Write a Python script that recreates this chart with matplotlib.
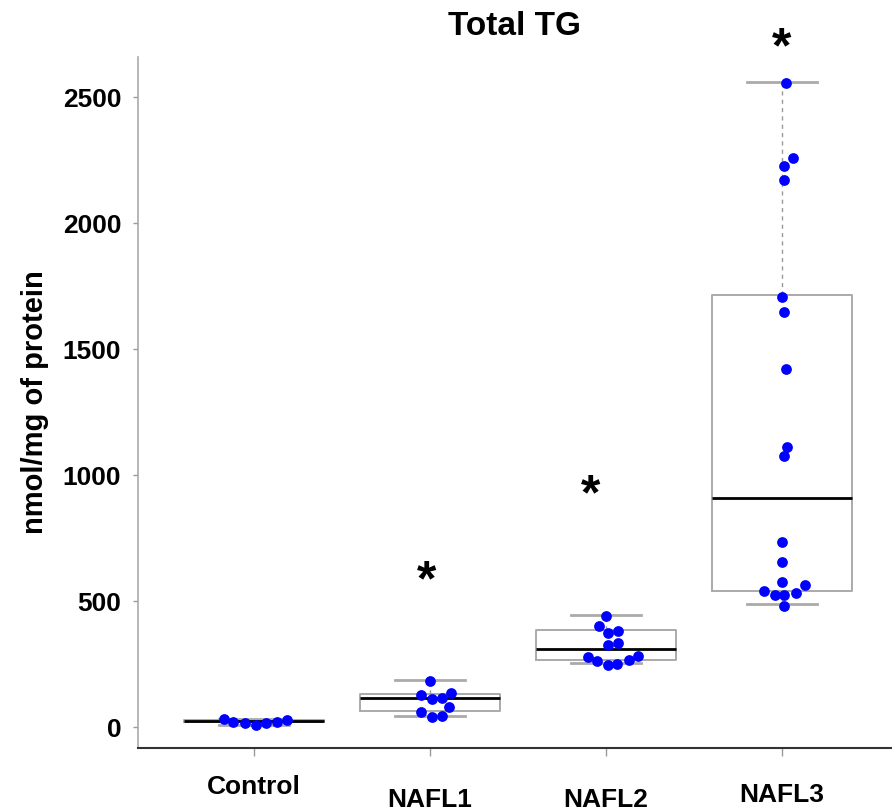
import matplotlib
matplotlib.use("Agg")
import matplotlib.pyplot as plt

plt.rcParams['font.family'] = ['Liberation Sans', 'DejaVu Sans']
plt.rcParams['font.weight'] = 'bold'

groups = ["Control", "NAFL1", "NAFL2", "NAFL3"]

control = [32, 20, 16, 8, 16, 20, 28]
nafl1 = [183, 127, 111, 115, 135, 79, 60, 40, 44]
nafl2 = [440, 401, 373, 381, 325, 333, 278, 262, 246, 250, 266, 282]
nafl3 = [2556, 2258, 2226, 2171, 1706, 1647, 1421, 1111, 1075,
         734, 655, 575, 563, 540, 524, 524, 532, 480]

# horizontal scatter of the dots inside each group
control_jit = [-0.17, -0.12, -0.05, 0.01, 0.07, 0.13, 0.19]
nafl1_jit = [0.0, -0.05, 0.01, 0.07, 0.12, 0.11, -0.05, 0.01, 0.07]
nafl2_jit = [0.0, -0.04, 0.01, 0.07, 0.01, 0.07, -0.10, -0.05, 0.01, 0.06, 0.13, 0.18]
nafl3_jit = [0.02, 0.06, 0.01, 0.01, 0.0, 0.01, 0.02, 0.03, 0.01,
             0.0, 0.0, 0.0, 0.13, -0.10, -0.04, 0.01, 0.08, 0.01]

# box statistics as drawn in the figure
medians = [25, 115, 310, 909]
q1 = [20, 63, 266, 540]
q3 = [28, 131, 385, 1714]
whis_lo = [8, 44, 254, 488]
whis_hi = [32, 186, 444, 2560]

# significance marks
star_groups = [2, 3, 4]
star_dx = [-0.02, -0.09, 0.0]
star_y = [575, 916, 2690]

values = [control, nafl1, nafl2, nafl3]
jitters = [control_jit, nafl1_jit, nafl2_jit, nafl3_jit]
positions = [1, 2, 3, 4]

fig = plt.figure(figsize=(8.92, 8.11), dpi=100)
ax = fig.add_axes([138 / 892, 1 - 748 / 811, 1 - 138 / 892, (748 - 57) / 811])

stats = []
for i, g in enumerate(groups):
    stats.append(dict(label=g, med=medians[i], q1=q1[i], q3=q3[i],
                      whislo=whis_lo[i], whishi=whis_hi[i], fliers=[]))

ax.bxp(stats, positions=positions, widths=0.8, showfliers=False,
       boxprops=dict(color="#aaaaaa", linewidth=1.4),
       medianprops=dict(color="black", linewidth=2),
       whiskerprops=dict(color="#999999", linewidth=1, linestyle=(0, (3, 3))),
       capprops=dict(color="#aaaaaa", linewidth=2),
       capwidths=0.4, zorder=1)

for pos, vals, jit in zip(positions, values, jitters):
    xs = [pos + j for j in jit]
    ax.scatter(xs, vals, s=60, color="#0000ff", zorder=3, linewidths=0)

for g, dx, y in zip(star_groups, star_dx, star_y):
    ax.text(g + dx, y, "*", fontsize=36, fontweight="bold",
            ha="center", va="center", clip_on=False)

ax.set_xlim(0.341, 4.625)
ax.set_ylim(-83, 2659)
ax.set_yticks([0, 500, 1000, 1500, 2000, 2500])
ax.set_xticks(positions)
ax.set_xticklabels(groups, fontsize=19, fontweight="bold")
for lab in ax.get_yticklabels():
    lab.set_fontsize(19)
    lab.set_fontweight("bold")

# staggered group labels
for t, p in zip(ax.xaxis.get_major_ticks(), [13.5, 23, 22.5, 19.5]):
    t.set_pad(p)

ax.tick_params(axis="x", length=6, width=1, color="#999999")
ax.tick_params(axis="y", length=3.5, width=1, color="#999999", pad=8.5)

ax.spines["top"].set_visible(False)
ax.spines["right"].set_visible(False)
ax.spines["left"].set_color("#aaaaaa")
ax.spines["left"].set_linewidth(1.2)
ax.spines["bottom"].set_color("#333333")
ax.spines["bottom"].set_linewidth(1.5)

ax.set_title("Total TG", fontsize=24, fontweight="bold", pad=16)
ax.set_ylabel("nmol/mg of protein", fontsize=21, fontweight="bold")
ax.yaxis.set_label_coords(-0.118, 0.5)

fig.savefig("out.png", dpi=100)
